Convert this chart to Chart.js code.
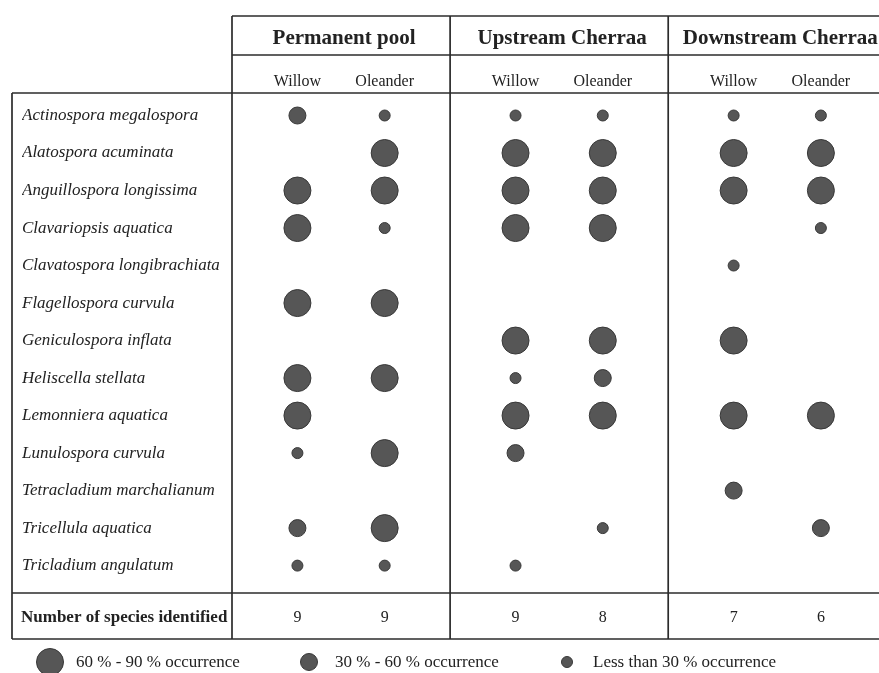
<!DOCTYPE html>
<html>
<head>
<meta charset="utf-8">
<script src="https://cdn.jsdelivr.net/npm/chart.js@4/dist/chart.umd.min.js"></script>
<style>
html,body{margin:0;padding:0;background:#fff;}
#wrap{width:879px;height:673px;position:relative;}
</style>
</head>
<body>
<div id="wrap"><canvas id="c" width="879" height="673"></canvas></div>
<script>
// ---- Data ----
const species = [
  "Actinospora megalospora",
  "Alatospora acuminata",
  "Anguillospora longissima",
  "Clavariopsis aquatica",
  "Clavatospora longibrachiata",
  "Flagellospora curvula",
  "Geniculospora inflata",
  "Heliscella stellata",
  "Lemonniera aquatica",
  "Lunulospora curvula",
  "Tetracladium marchalianum",
  "Tricellula aquatica",
  "Tricladium angulatum"
];
const sites = ["Permanent pool", "Upstream Cherraa", "Downstream Cherraa"];
const trees = ["Willow", "Oleander"];
// occurrence class: 0 = absent, 1 = < 30 %, 2 = 30-60 %, 3 = 60-90 %
const permanentPoolWillow    = [2,0,3,3,0,3,0,3,3,1,0,2,1];
const permanentPoolOleander  = [1,3,3,1,0,3,0,3,0,3,0,3,1];
const upstreamWillow         = [1,3,3,3,0,0,3,1,3,2,0,0,1];
const upstreamOleander       = [1,3,3,3,0,0,3,2,3,0,0,1,0];
const downstreamWillow       = [1,3,3,0,1,0,3,0,3,0,2,0,0];
const downstreamOleander     = [1,3,3,1,0,0,0,0,3,0,0,2,0];
const speciesCount = ["9","9","9","8","7","6"];
const countLabel = "Number of species identified";
const legendLabels = ["60 % - 90 % occurrence", "30 % - 60 % occurrence", "Less than 30 % occurrence"];
const legendClasses = [3, 2, 1];

// ---- Styles ----
const columns = [permanentPoolWillow, permanentPoolOleander, upstreamWillow, upstreamOleander, downstreamWillow, downstreamOleander];
const radiusByClass = [0, 5.5, 8.5, 13.5];
const treeOffset = [0.3, 0.7];
const FONT = "'Liberation Serif', 'Times New Roman', serif";
const INK = "#222";
const LINE = "#2b2b2b";
const BUBBLE = "#565656";
const BUBBLE_EDGE = "#383838";

const points = [];
columns.forEach((col, c) => {
  const s = Math.floor(c / 2), t = c % 2;
  col.forEach((cls, i) => {
    if (cls > 0) points.push({x: s + treeOffset[t], y: i, r: radiusByClass[cls]});
  });
});

const tablePlugin = {
  id: 'table',
  beforeDatasetsDraw(chart) {
    const ctx = chart.ctx, ca = chart.chartArea, xs = chart.scales.x;
    const W = chart.width;
    const yTop = 16, yHead = 55, yBot = 639, xLeft = 12;
    ctx.save();
    ctx.strokeStyle = LINE;
    ctx.lineWidth = 1.7;
    const hl = (x1, x2, y) => { ctx.beginPath(); ctx.moveTo(x1, y); ctx.lineTo(x2, y); ctx.stroke(); };
    const vl = (x, y1, y2) => { ctx.beginPath(); ctx.moveTo(x, y1); ctx.lineTo(x, y2); ctx.stroke(); };
    hl(ca.left, W, yTop);
    hl(ca.left, W, yHead);
    hl(xLeft, W, ca.top);
    hl(xLeft, W, ca.bottom);
    hl(xLeft, W, yBot);
    vl(xLeft, ca.top, yBot);
    for (let k = 0; k < sites.length; k++) vl(xs.getPixelForValue(k), yTop, yBot);
    ctx.restore();
  },
  afterDraw(chart) {
    const ctx = chart.ctx, xs = chart.scales.x;
    ctx.save();
    ctx.fillStyle = INK;
    // site headers
    ctx.font = "bold 21px " + FONT;
    ctx.textAlign = 'center';
    ctx.textBaseline = 'alphabetic';
    sites.forEach((s, k) => ctx.fillText(s, xs.getPixelForValue(k + 0.5) + 3, 44));
    // tree headers
    ctx.font = "16px " + FONT;
    sites.forEach((s, k) => trees.forEach((t, j) => ctx.fillText(t, xs.getPixelForValue(k + treeOffset[j]), 86)));
    // counts row
    ctx.textBaseline = 'middle';
    const yc = 618;
    speciesCount.forEach((v, c) => {
      const k = Math.floor(c / 2), j = c % 2;
      ctx.fillText(v, xs.getPixelForValue(k + treeOffset[j]), yc);
    });
    ctx.font = "bold 17px " + FONT;
    ctx.textAlign = 'left';
    ctx.fillText(countLabel, 21, yc);
    // legend
    const legX = [50, 309, 567];
    const ly = 662;
    legendClasses.forEach((cls, i) => {
      ctx.beginPath();
      ctx.arc(legX[i], ly, radiusByClass[cls], 0, Math.PI * 2);
      ctx.fillStyle = BUBBLE;
      ctx.fill();
      ctx.lineWidth = 1;
      ctx.strokeStyle = BUBBLE_EDGE;
      ctx.stroke();
      ctx.fillStyle = INK;
      ctx.font = "17px " + FONT;
      ctx.textAlign = 'left';
      ctx.textBaseline = 'middle';
      ctx.fillText(legendLabels[i], legX[i] + 26, ly + 1);
    });
    ctx.restore();
  }
};

new Chart(document.getElementById('c'), {
  type: 'bubble',
  data: {
    datasets: [{
      data: points,
      backgroundColor: BUBBLE,
      borderColor: BUBBLE_EDGE,
      borderWidth: 1,
      hoverRadius: 0
    }]
  },
  options: {
    responsive: false,
    animation: false,
    devicePixelRatio: 1,
    layout: {padding: {top: 93, left: 22, right: 0, bottom: 80}},
    plugins: {legend: {display: false}, tooltip: {enabled: false}},
    scales: {
      x: {type: 'linear', min: 0, max: 2.9, display: false},
      y: {
        type: 'linear', min: -0.6, max: 12.73, reverse: true,
        grid: {display: false}, border: {display: false},
        afterFit(s) { s.width = 210; },
        afterBuildTicks(s) { s.ticks = species.map((_, i) => ({value: i})); },
        ticks: {
          autoSkip: false, crossAlign: 'far', padding: 0,
          color: INK,
          font: {family: FONT, size: 17, style: 'italic'},
          callback: (v) => species[v]
        }
      }
    }
  },
  plugins: [tablePlugin]
});
</script>
</body>
</html>
